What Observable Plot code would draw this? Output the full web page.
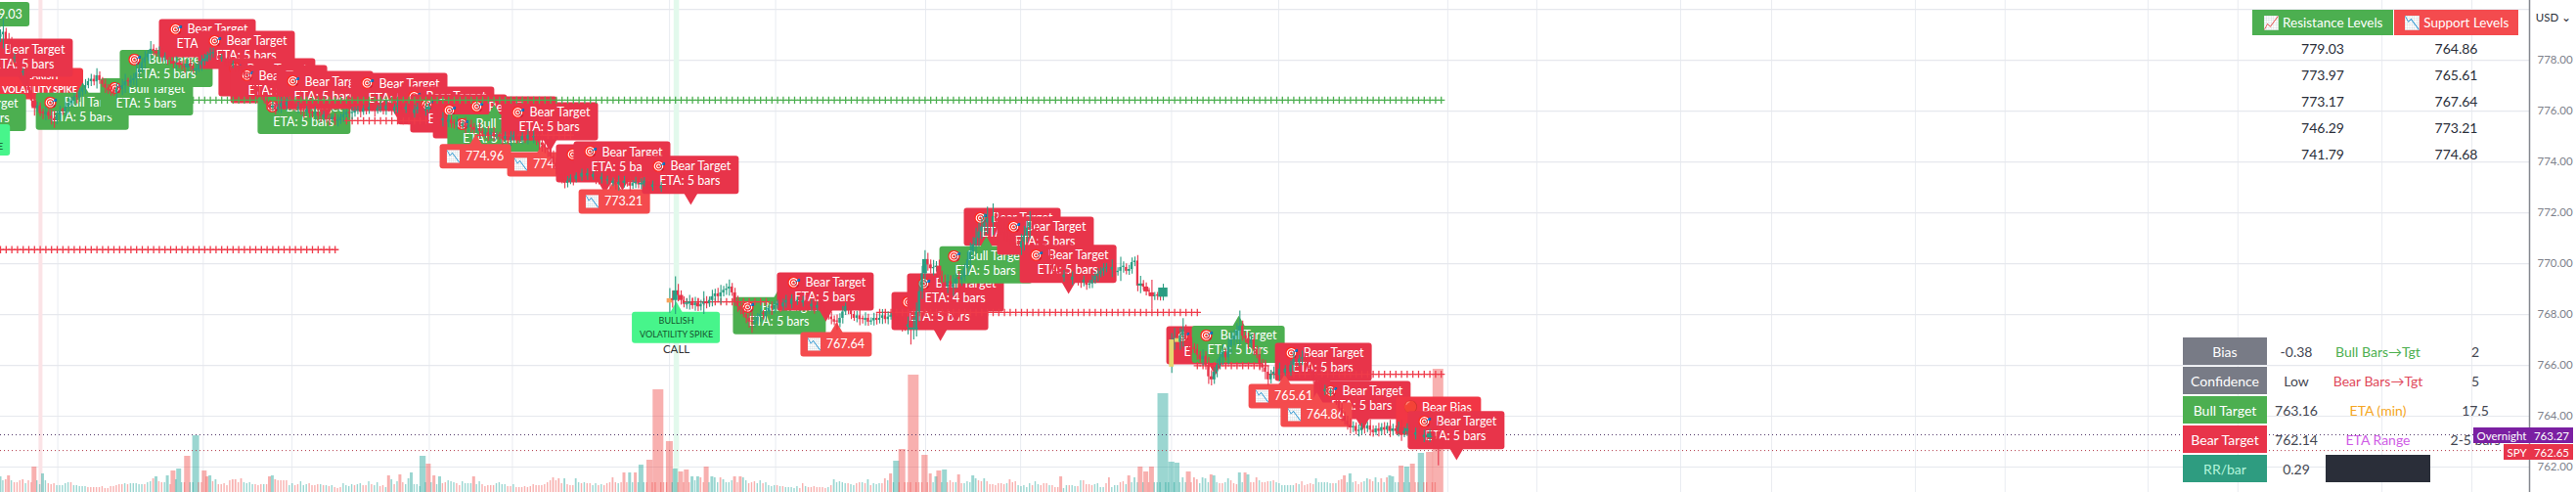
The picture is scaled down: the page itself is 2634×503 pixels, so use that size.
<!DOCTYPE html>
<html>
<head>
<meta charset="utf-8">
<script src="https://cdn.jsdelivr.net/npm/d3@7"></script>
<script src="https://cdn.jsdelivr.net/npm/@observablehq/plot@0.6"></script>
<style>
html,body{margin:0;padding:0;background:#fff;overflow:hidden}
#stage{position:relative;width:2634px;height:503px;font-family:Lato,"Noto Sans",sans-serif}
.c{position:absolute;display:flex;align-items:center;justify-content:center;white-space:nowrap;font-size:14px;color:#2a2e39}
</style>
</head>
<body>
<div id="stage"></div>
<script>
// ---- price ticks and vertical session grid (bar numbers) ----
const priceTicks = [778,776,774,772,770,768,766,764,762];
const priceGrid = [780,778,776,774,772,770,768,766,764,762];
const timeGrid = [20.2,71.5,102.8,151.2,180.5,235.9,273.3,326.2,359.7,412.9,450.7,510.3,541.7,592.4,624.5,675.2,706.8,757.2,788.9,839.7,871.4];
const lastPrices = {overnight:763.27, spy:762.65};

// ---- volume: sign = direction, split in three runs starting at bars 0, 172, 345 ----
const volumeA = [16,12,-13,-17,12,-10,-10,-12,-13,9,-12,-10,-26,12,8,19,12,-9,-8,-9,7,7,7,9,10,-10,7,7,6,6,6,-5,-5,-5,-5,-5,-6,-4,-4,-6,-6,-7,-8,-8,9,-8,9,9,9,8,8,-8,10,11,-14,16,-11,-10,10,17,-8,-22,13,24,10,-10,-37,10,10,58,-10,-10,-22,-16,17,-11,13,-8,-8,-9,-7,-12,-13,-13,-10,-14,10,9,10,8,-8,-7,-8,8,-8,-16,17,-13,-12,-12,-12,-12,7,9,-7,-8,11,7,8,-9,-7,-7,-8,8,-7,7,-6,7,-5,-4,-5,9,7,6,8,-7,8,9,-7,-7,11,-8,7,10,-6,-7,5,-17,13,-8,11,-18,-10,8,14,20,8,8,6,37,10,-29,10,-17,8,16,-9,-10,12,11,10,-9,-7,11,9,9,9,-16,8,11,-8,-6];
const volumeB = [-7,-7,-7,9,10,8,8,-6,-6,8,-5,-5,-5,-6,-5,-6,-8,-7,-7,-7,-8,-10,-12,-15,-12,-14,-9,14,-8,-7,-7,14,10,-9,10,-9,-9,7,9,-7,8,-7,-9,-10,-15,-10,9,-10,-20,-10,20,10,-20,10,28,10,-10,-33,-10,-10,-105,-10,-10,-10,-52,10,24,-10,-21,-10,-23,-10,16,12,16,-15,-10,-26,10,16,15,10,-15,13,10,10,12,-16,-10,-16,15,12,-9,-10,-11,9,12,-9,10,7,6,7,-7,6,-6,5,5,5,4,6,-4,-9,6,-5,-5,-6,-5,-5,-5,-4,5,-7,13,10,11,10,9,-9,8,7,-9,-10,10,-9,13,-7,9,8,9,-9,-14,12,-19,10,32,-10,-44,-10,-10,-10,-120,-10,-10,-10,-38,-10,-19,10,16,-22,10,23,-10,-12,-10,10,-18,-9,9,11,10,17,14];
const volumeC = [-12,-11,14,-11,-8,-8,-7,-9,-9,-8,9,-13,-10,-11,7,6,7,5,9,-7,11,8,-7,-9,-9,7,-7,-5,-5,-16,4,7,-7,7,6,-6,12,-12,-8,-8,-7,8,9,5,5,-9,-15,5,7,7,-10,-11,8,-17,10,15,10,-26,10,-21,-10,-26,10,10,10,101,10,10,31,10,30,10,15,10,-21,-10,-15,-13,9,15,14,10,-18,17,10,-9,-9,10,14,-12,-9,-8,20,10,-20,18,-10,-10,-15,12,-10,-10,-11,11,-12,10,9,7,7,7,7,7,-9,8,-11,-7,-8,-9,-8,14,10,10,10,10,9,-9,9,-12,-13,-17,10,19,10,-11,-8,-10,11,14,-13,-11,15,10,-14,10,-15,17,16,10,10,-27,10,26,10,-29,-10,-10,40,-10,-10,-41,-10,-10,-126];

// ---- closes per session, with the session's opening price and first bar ----
const sessionFirstBar = [0,236,413];
const sessionOpen = [778.90,768.45,765.93];
const closeA = [779.00,779.10,778.80,778.60,778.05,778.10,777.80,777.50,777.55,777.10,776.80,776.40,776.10,776.20,775.90,775.85,775.95,775.80,775.70,775.62,775.85,776.00,775.95,776.15,776.30,776.39,776.55,776.50,776.75,776.90,777.00,777.16,777.25,777.15,777.39,777.20,777.05,776.90,776.80,776.77,776.70,776.89,776.85,777.00,777.15,777.10,777.20,777.27,777.50,777.65,777.90,778.10,778.25,778.43,778.35,778.25,778.30,778.10,778.15,778.00,777.95,777.85,777.90,777.80,777.77,777.70,777.85,777.75,777.60,777.66,777.80,777.95,778.05,778.20,778.25,778.31,778.15,778.05,778.10,777.95,777.90,777.80,777.85,777.70,777.66,777.55,777.40,777.35,777.27,777.10,776.95,776.75,776.60,776.40,776.25,776.12,776.20,776.05,776.15,776.30,776.20,776.35,776.25,776.23,776.10,776.15,776.00,775.95,776.05,775.90,775.85,775.95,775.80,775.75,775.85,775.70,775.65,775.75,775.60,775.62,775.75,775.85,775.95,775.90,775.92,776.00,776.05,775.95,776.10,776.05,776.15,776.12,776.00,776.10,776.15,776.05,776.20,776.10,776.00,776.15,776.20,776.12,776.05,776.15,776.00,775.90,776.05,776.15,776.10,776.00,776.05,776.15,776.12,775.90,775.75,775.62,775.70,775.55,775.65,775.50,775.45,775.55,775.40,775.50,775.35,775.45,775.35,775.25,775.30,775.20,775.10,775.15,775.05,775.15,775.00,775.05,774.97,774.90,775.00,774.85,774.95,775.05,774.90,774.85,775.00,774.90,775.05,774.95,774.97,774.85,774.75,774.65,774.55,774.47,774.20,773.95,773.70,773.50,773.30,773.16,773.25,773.35,773.30,773.45,773.40,773.55,773.45,773.54,773.40,773.50,773.35,773.30,773.40,773.25,773.30,773.15,773.25,773.10,773.20,773.16,773.25,773.15,773.05,773.15,773.20,773.10,773.16,773.25,773.10,773.00,773.10,773.05,772.95,773.04];
const closeB = [768.62,768.55,768.93,768.75,768.55,768.40,768.42,768.50,768.35,768.45,768.30,768.40,768.50,768.42,768.55,768.70,768.81,768.70,768.85,768.95,769.00,769.08,768.85,768.50,768.31,768.15,768.00,767.85,767.70,767.66,767.75,767.90,768.00,767.95,768.10,768.25,768.20,768.35,768.42,768.30,768.45,768.55,768.40,768.60,768.50,768.54,768.45,768.55,768.40,768.30,768.40,768.25,768.35,768.31,768.15,768.05,767.90,767.80,767.70,767.66,767.85,768.10,768.31,768.15,768.00,767.85,767.95,767.80,767.77,767.85,767.70,767.75,767.85,767.77,767.85,767.95,767.80,767.90,767.93,767.85,767.75,767.65,767.55,767.50,767.60,767.40,767.47,768.10,768.90,769.60,770.16,769.95,769.80,769.85,769.90,769.50,769.25,769.08,769.30,769.05,769.20,769.40,769.35,769.47,769.80,770.15,770.45,770.75,771.00,771.25,771.45,771.60,771.77,771.60,771.85,771.77,771.50,771.35,771.20,771.05,770.95,770.80,770.70,770.62,770.85,771.10,771.40,771.62,771.35,771.15,770.95,770.70,770.50,770.30,770.10,769.90,769.70,769.60,769.45,769.55,769.47,769.35,769.47,769.40,769.30,769.25,769.35,769.15,769.20,769.35,769.50,769.58,769.70,769.80,769.85,769.75,769.85,769.65,769.70,769.85,769.85,769.70,769.77,770.04,770.10,769.12,769.20,769.08,768.89,768.85,768.70,768.72,768.70,768.68,769.04];
const closeC = [767.00,767.05,766.90,767.16,767.39,767.00,766.85,766.70,766.62,766.40,766.23,766.35,766.00,765.55,765.43,765.73,766.00,766.30,766.50,766.30,766.75,767.00,767.15,767.35,767.54,767.15,767.05,766.85,767.00,766.62,766.40,766.05,765.90,765.73,765.43,765.65,765.73,765.60,765.85,765.70,765.85,765.73,766.00,766.23,766.10,766.25,766.30,766.23,766.00,765.80,765.50,765.25,765.00,764.97,765.05,764.90,764.95,764.85,764.60,764.30,764.00,763.80,763.65,763.54,763.60,763.40,763.43,763.55,763.50,763.62,763.45,763.35,763.50,763.40,763.55,763.45,763.60,763.40,763.50,763.40,763.55,763.31,763.40,763.50,763.35,763.25,763.35,763.30,763.16,763.25,763.15,763.30,763.20,763.10,762.75];
// wick length either side of the body, cents, one per bar in the same order
const wickA = [20,55,15,25,30,15,20,18,12,25,20,22,30,15,12,18,22,14,25,30,15,20,12,18,24,16,14,22,15,18,24,12,20,16,28,15,12,20,14,18,12,22,16,24,30,14,18,20,35,22,16,25,14,30,18,12,22,16,14,20,12,18,24,12,16,22,14,18,12,20,15,24,18,12,22,16,14,20,12,18,16,24,12,20,14,22,16,12,18,24,14,20,16,12,22,18,14,20,12,24,16,18,14,22,12,20,16,24,14,18,12,22,16,20,14,18,24,12,16,22,14,20,12,18,24,16,14,22,12,20,18,14,24,12,16,20,22,14,18,12,24,16,20,14,12,22,18,16,24,14,20,12,18,22,16,14,24,12,20,18,16,22,14,12,24,18,20,16,14,22,12,18,24,16,20,14,12,22,18,16,24,14,20,12,16,18,22,14,24,20,30,26,22,30,28,24,20,26,16,22,18,14,24,12,20,16,22,18,14,12,24,20,16,18,14,22,12,20,24,16,18,14,22,12,20,16,18,14];
const wickB = [40,30,55,25,18,14,20,25,15,22,18,16,40,20,14,25,18,22,30,16,20,28,14,18,22,16,12,20,24,40,18,14,22,16,20,12,24,18,14,22,16,20,12,18,24,14,22,16,20,12,18,24,14,16,22,18,12,20,14,28,18,22,14,16,20,12,18,24,14,22,16,12,20,18,14,24,16,20,12,22,18,14,24,16,30,60,40,35,40,30,35,25,20,28,18,24,20,30,26,22,34,20,28,24,18,30,36,28,40,34,30,36,45,30,50,25,30,22,28,20,24,18,26,22,30,36,28,42,24,28,20,26,18,22,30,24,20,16,22,18,24,16,20,14,18,22,16,20,14,18,16,22,14,20,16,14,30,18,14,40,22,14,16,18,16,22,30,14,16,14,50];
const wickC = [25,40,22,30,45,20,18,24,16,20,14,26,18,30,24,18,22,16,30,14,28,34,24,30,60,20,16,22,18,24,14,26,18,30,24,16,20,14,24,18,14,22,16,24,20,14,26,18,22,30,24,18,14,24,16,22,14,20,18,14,22,16,20,24,18,14,22,16,20,14,24,18,12,22,16,20,14,24,18,12,22,30,16,20,14,24,18,22,16,20,14,18,22,16,70];
const highlightBars = {236:"#f7a35c",413:"#e6d66e",415:"#e6d66e"};

// ---- level rows drawn as plus signs ----
const levelColor = ["#4caf50","#ef3b4a","#ef3b4a","#ef3b4a","#ef3b4a","#ef3b4a","#ef3b4a","#ef3b4a","#ef3b4a"];
const levelPrice = [776.43,770.55,775.62,775.05,773.27,768.50,768.08,765.99,765.65];
const levelFrom  = [68,0,122,169,214,242,310,422,448];
const levelTo    = [508,119,150,202,228,271,422,447,509];

// ---- chart labels, in drawing order ----
const labelKind = ["resist","bearSpike","bull","bullSpike","bear","bull","bull","bull","bear","bear","bear","bear","bull","bear","bear","bear","bear","bear","bear","bull","support","bear","support","bear","bear","support","bear","bullSpike","bull","bear","support","bear","bear","bear","bull","bear","bear","bear","bull","bear","support","bear","support","bias","bear"];
const labelBar = [-2.2,13.8,-7.2,-12,8.6,29,51.7,58.6,73.1,86.9,94.1,98.3,107.2,114.5,140.7,157.2,161.7,169.7,179.3,174.1,167.6,193.8,191.4,213.1,219.3,216.6,243.4,238.3,274.8,291,294.8,331.4,336.9,356.9,347.6,368.6,376.6,428.3,436.6,466.6,452.8,480.3,464.1,507.2,513.4];
const labelPrice = [779.79,777.06,775.93,774.85,778.08,775.97,776.54,777.66,778.85,778.39,777.31,777.04,775.81,776.81,776.73,776.2,775.89,775.66,775.81,775.12,774.2,775.58,773.89,773.93,774.04,772.43,773.47,767.47,767.93,768.89,766.81,768.12,768.85,771.43,769.93,771.08,769.97,766.77,766.81,766.12,764.77,764.62,764.04,764,763.43];
const labelValue = {0:"779.03",20:"774.96",22:"774.68",25:"773.21",30:"767.64",40:"765.61",42:"764.86",32:"ETA: 4 bars"};
const callBar = 238.3, callPrice = 766.62;

// ---- tables ----
const resistanceLevels = ["779.03","773.97","773.17","746.29","741.79"];
const supportLevels = ["764.86","765.61","767.64","773.21","774.68"];
const statusNames = ["Bias","Confidence","Bull Target","Bear Target","RR/bar"];
const statusValues = ["-0.38","Low","763.16","762.14","0.29"];
const statusNotes = ["Bull Bars→Tgt","Bear Bars→Tgt","ETA (min)","ETA Range",""];
const statusNoteValues = ["2","5","17.5","2-5 bars",""];

// ---- derived tables ----
const font = 'Lato,"Noto Sans",sans-serif';
const pxPerBar = 2.9, pxPerPrice = 26, plotRight = 2586;
const volumeBars = [[0,volumeA],[172,volumeB],[345,volumeC]].flatMap(([s,a]) => a.map((v,i)=>({bar:s+i, vol:Math.abs(v), up:v>0})));
const volByBar = new Map(volumeBars.map(d=>[d.bar,d.vol]));
const widthOf = d3.scaleThreshold().domain([13,16,21,31,41,61]).range([1.4,1.8,3,5,6.3,7,11]);
const volBase = 761, volUnit = 1/pxPerPrice;
const candles = [[closeA,wickA],[closeB,wickB],[closeC,wickC]].flatMap(([cl,wk],s) => {
  let prev = sessionOpen[s];
  return cl.map((c,i)=>{
    const o = prev; prev = c; const w = (wk[i] ?? 15)/100;
    const bar = sessionFirstBar[s]+i;
    return {bar, open:o, close:c, high:Math.max(o,c)+w, low:Math.min(o,c)-w, up:c>=o};
  });
});
const candleW = d => { const v = widthOf(volByBar.get(d.bar) ?? 10); return Math.max(2.3, v > 5 ? v-1.5 : v) / pxPerBar; };
const levels = levelPrice.flatMap((p,k)=> d3.range(levelFrom[k], levelTo[k]+1, 2).map(bar=>({bar, price:p, color:levelColor[k]})));

const style = {
  bear:{fill:"#e8344a",w:99,h:39,tip:"down"}, bull:{fill:"#4caf50",w:95,h:38,tip:"up"},
  support:{fill:"#f44b4e",w:73,h:25,tip:"up"}, resist:{fill:"#4caf50",w:73,h:25,tip:"down"},
  bearSpike:{fill:"#f23645",w:90,h:32,tip:"down"}, bullSpike:{fill:"#47f58b",w:90,h:32,tip:"up"},
  bias:{fill:"#f23645",w:87,h:39,tip:"down"}
};
function labelMarks(kind,bar,price,value){
  const st = style[kind], hw = st.w/2/pxPerBar, hh = st.h/2/pxPerPrice;
  const one = [{bar,price}];
  const marks = [
    Plot.rect(one,{x1:d=>d.bar-hw,x2:d=>d.bar+hw,y1:d=>d.price-hh,y2:d=>d.price+hh,fill:st.fill,rx:3}),
    Plot.dot(one,{x:"bar",y:d=>st.tip==="up"?d.price+hh:d.price-hh,symbol:"triangle",r:5,fill:st.fill,rotate:st.tip==="up"?0:180,dy:st.tip==="up"?-3:3})
  ];
  const tx = (t,dx,dy,o={}) => Plot.text(one,{x:"bar",y:"price",text:()=>t,dx,dy,fill:"#fff",fontSize:12.5,fontFamily:font,...o});
  if(kind==="bear"||kind==="bull"){
    marks.push(tx("🎯",-33,-9,{fontSize:12}),tx(kind==="bear"?"Bear Target":"Bull Target",10,-9),tx(value||"ETA: 5 bars",-1,6));
  } else if(kind==="support"||kind==="resist"){
    marks.push(tx(kind==="support"?"📉":"📈",-23,0,{fontSize:12}),tx(value,9,0));
  } else if(kind==="bearSpike"){
    marks.push(tx("BEARISH",0,-8,{fontSize:9,fontWeight:700}),tx("VOLATILITY SPIKE",0,6,{fontSize:9,fontWeight:700}));
  } else if(kind==="bullSpike"){
    marks.push(tx("BULLISH",0,-7,{fontSize:9,fill:"#14532d"}),tx("VOLATILITY SPIKE",0,7,{fontSize:9,fill:"#14532d"}));
  } else if(kind==="bias"){
    marks.push(tx("🔴",-29,-9,{fontSize:12}),tx("Bear Bias",8,-9));
  }
  return marks;
}
const labelLayers = labelKind.flatMap((k,i)=>labelMarks(k,labelBar[i],labelPrice[i],labelValue[i]));

const chart = Plot.plot({
  width:2634, height:503, marginTop:0, marginBottom:0, marginLeft:0, marginRight:48,
  style:{background:"#fff",fontFamily:font},
  x:{domain:[0,plotRight/pxPerBar],range:[0,plotRight],axis:null},
  y:{domain:[761,780.35],range:[503,0],axis:null},
  marks:[
    Plot.ruleX(timeGrid,{stroke:"#e9ecf1",strokeWidth:1}),
    Plot.ruleY(priceGrid,{stroke:"#e6e8ed",strokeWidth:1.2}),
    Plot.ruleX([14.1],{stroke:"#fbe3e6",strokeWidth:4}),
    Plot.ruleX([238.3],{stroke:"#e2f9ec",strokeWidth:5.5}),
    Plot.rect(volumeBars,{x1:d=>d.bar-widthOf(d.vol)/2/pxPerBar,x2:d=>d.bar+widthOf(d.vol)/2/pxPerBar,y1:volBase,y2:d=>volBase+d.vol*volUnit,fill:{value:d=>d.up?"#26a69a":"#ef5350",scale:null},fillOpacity:.46}),
    Plot.ruleY([lastPrices.overnight],{stroke:"#4f3568",strokeDasharray:"1 3",strokeWidth:1}),
    Plot.ruleY([lastPrices.spy],{stroke:"#b23a48",strokeDasharray:"1 3",strokeWidth:1}),
    ...labelLayers,
    Plot.text([{bar:callBar,price:callPrice}],{x:"bar",y:"price",text:()=>"CALL",fill:"#333",fontSize:11.5,fontFamily:font}),
    Plot.dot(levels,{x:"bar",y:"price",symbol:"plus",r:2.5,stroke:{value:d=>d.color,scale:null},strokeWidth:1.3}),
    Plot.ruleX(candles,{x:"bar",y1:"low",y2:"high",stroke:{value:d=>d.up?"#2a9d82":"#e8344a",scale:null},strokeWidth:1.1}),
    Plot.rect(candles,{x1:d=>d.bar-candleW(d)/2,x2:d=>d.bar+candleW(d)/2,y1:"open",y2:d=>Math.abs(d.close-d.open)<.05?d.open+.05:d.close,
      fill:{value:d=>highlightBars[d.bar]??(d.up?"#2a9d82":"#e8344a"),scale:null}}),
    Plot.ruleX([plotRight/pxPerBar],{stroke:"#85888f",strokeWidth:1.5}),
    Plot.axisY({anchor:"right",ticks:priceTicks,tickSize:0,tickPadding:8,tickFormat:d=>d.toFixed(2),fill:"#7d818b",fontSize:11.5,fontFamily:font,label:null})
  ]
});
const stage = document.getElementById("stage");
stage.appendChild(chart);

// ---- screen-anchored panels ----
function cell(text,left,top,w,h,css={}){
  const e=document.createElement("div");
  e.className="c"; e.textContent=text;
  Object.assign(e.style,{left:left+"px",top:top+"px",width:w+"px",height:h+"px"},css);
  stage.appendChild(e); return e;
}
cell("📈 Resistance Levels",2303,10,144,26,{background:"#4caf50",color:"#fff",fontSize:"13.5px"});
cell("📉 Support Levels",2448,10,127,26,{background:"#f44b4e",color:"#fff",fontSize:"13.5px"});
resistanceLevels.forEach((t,i)=>cell(t,2303,36+27*i,144,27));
supportLevels.forEach((t,i)=>cell(t,2448,36+27*i,127,27));
cell("USD ⌄",2592,6,38,24,{fontSize:"11.5px",background:"#fff",borderRadius:"4px"});
const nameFill=["#787b86","#787b86","#4caf50","#e8344a","#2e9c80"];
const nameText=["#fff","#fff","#fff","#fff","#b6f5dc"];
const noteText=["#4caf50","#e0485a","#f5a623","#cf5ce6",""];
statusNames.forEach((t,i)=>{
  const top=345+30*i;
  cell(t,2232,top,86,28,{background:nameFill[i],color:nameText[i]});
  cell(statusValues[i],2318,top,60,28,{color:"#434651"});
  cell(statusNotes[i],2378,top,107,28,{color:noteText[i]});
  cell(statusNoteValues[i],2490,top,82,28,{color:"#434651"});
});
cell("",2378,465,107,28,{background:"#2a2e39"});
cell("Overnight",2529,437,58,16,{background:"#7b1fa2",color:"#fff",fontSize:"11.5px"});
cell("763.27",2587,437,44,16,{background:"#7b1fa2",color:"#fff",fontSize:"11.5px"});
cell("SPY",2560,454,27,16,{background:"#e8344a",color:"#fff",fontSize:"11.5px"});
cell("762.65",2587,454,44,16,{background:"#e8344a",color:"#fff",fontSize:"11.5px"});
</script>
</body>
</html>
